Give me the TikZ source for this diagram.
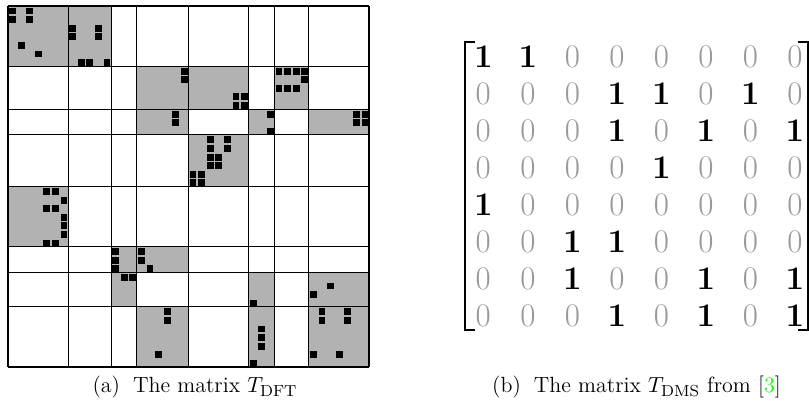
\documentclass[tikz,border=0pt]{standalone}
\usepackage{xcolor}
\definecolor{blockgray}{gray}{0.7}
\definecolor{zerogray}{gray}{0.6}
\definecolor{citegreen}{rgb}{0,1,0}
\begin{document}
\begin{tikzpicture}[x=0.5pt,y=-0.5pt,
  gridline/.style={line width=0.55pt,black},
  grayblock/.style={fill=blockgray},
  entry/.style={anchor=base,inner sep=0pt,font=\fontsize{16.5}{19}\selectfont},
  bracketline/.style={line width=0.8pt,black},
  captiontext/.style={anchor=base,inner sep=0pt,font=\fontsize{11}{13}\selectfont}]
\useasboundingbox (0,0) rectangle (809,405);
% ---------- left: block matrix T_DFT ----------
\begin{scope}[xshift=4pt,yshift=-3pt,x=4.2975pt,y=-4.2975pt]
  % gray blocks: row0/row1/col0/col1
  \foreach \ra/\rb/\ca/\cb in {0/7/0/7,0/7/7/12,7/12/15/21,7/12/21/28,7/12/31/35,
      12/15/15/21,12/15/28/31,12/15/35/42,15/21/21/28,21/28/0/7,28/31/12/15,
      28/31/15/21,31/35/12/15,31/35/28/31,31/35/35/42,35/42/15/21,35/42/28/31,35/42/35/42}
    \fill[grayblock] (\ca,\ra) rectangle (\cb,\rb);
  % black entries: row/col
  \foreach \r/\c in {0/0,1/0,0/2,1/2,4/1,5/3,
      2/7,3/7,2/10,3/10,6/8,6/9,6/11,
      7/20,8/20,
      10/26,10/27,11/26,11/27,
      7/31,7/32,7/33,7/34,8/34,9/31,9/32,9/33,
      12/19,13/19,
      12/30,14/30,
      12/40,12/41,13/40,13/41,
      15/23,16/23,15/25,16/25,17/23,17/24,18/23,18/24,19/21,19/22,20/21,20/22,
      21/4,21/5,22/6,23/4,23/5,24/6,25/6,26/6,27/4,27/5,
      28/12,29/12,30/12,
      28/15,29/15,30/16,
      31/13,31/14,
      34/28,
      32/37,33/35,
      35/18,36/18,40/17,
      37/29,38/29,39/29,41/28,
      35/36,36/36,35/39,36/39,40/35,40/38}
    \fill[black] (\c+0.13,\r+0.18) rectangle (\c+0.92,\r+0.98);
  % block boundaries
  \foreach \k in {0,7,12,15,21,28,31,35,42}{
    \draw[gridline] (\k,0) -- (\k,42);
    \draw[gridline] (0,\k) -- (42,\k);
  }
\end{scope}
% ---------- right: matrix T_DMS ----------
\foreach \row [count=\r from 0] in {{1,1,0,0,0,0,0,0},{0,0,0,1,1,0,1,0},
    {0,0,0,1,0,1,0,1},{0,0,0,0,1,0,0,0},{1,0,0,0,0,0,0,0},
    {0,0,1,1,0,0,0,0},{0,0,1,0,0,1,0,1},{0,0,0,1,0,1,0,1}}{
  \foreach \v [count=\c from 0] in \row {
    \node[entry] (m-\r-\c) at ({483.3+44.53*\c},{67.3+37*\r})
      {\ifnum\v=1 \textbf{1}\else\textcolor{zerogray}{0}\fi};
  }
}
\draw[bracketline] (475,42) -- (465,42) -- (465,330) -- (475,330);
\draw[bracketline] (798,42) -- (808,42) -- (808,330) -- (798,330);
% ---------- captions ----------
\node[captiontext] (capa) at (195,392.7) {(a)\hspace{6.5pt}The matrix $T_{\mathrm{DFT}}$};
\node[captiontext] (capb) at (636.5,392.7) {(b)\hspace{6.5pt}The matrix $T_{\mathrm{DMS}}$ from [\textcolor{citegreen}{3}]};
\end{tikzpicture}
\end{document}
